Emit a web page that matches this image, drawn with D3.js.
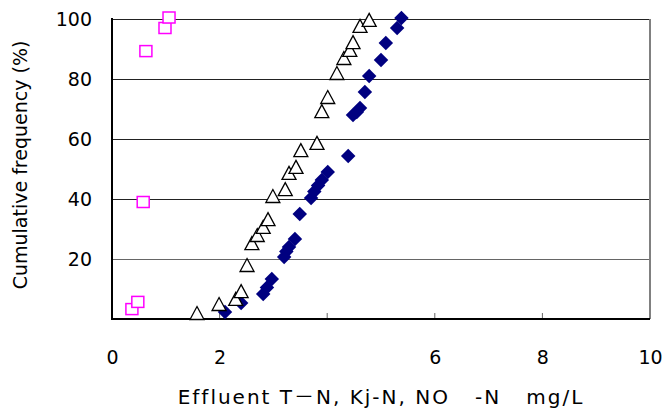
<!DOCTYPE html>
<html>
<head>
<meta charset="utf-8">
<script src="https://cdn.jsdelivr.net/npm/d3@7"></script>
<style>
  html, body { margin: 0; padding: 0; background: #fff; }
  svg { display: block; }
  text { font-family: "DejaVu Sans", "Noto Sans CJK JP", sans-serif; fill: #000; }
</style>
</head>
<body>
<svg id="chart" width="664" height="417"></svg>
<script>
// ---- data ----
const xTicks = [0, 2, 4, 6, 8, 10];
const xTickLabels = ["0", "2", "", "6", "8", "10"];
const yTicks = [20, 40, 60, 80, 100];
const yTickLabels = ["20", "40", "60", "80", "100"];

// open triangles
const triX = [1.58, 1.99, 2.30, 2.40, 2.51, 2.60, 2.70, 2.81, 2.90, 2.99, 3.22, 3.29, 3.42, 3.51, 3.81, 3.90, 4.01, 4.18, 4.31, 4.42, 4.48, 4.61, 4.78];
const triY = [2.0, 5.0, 6.7, 9.3, 18.0, 25.3, 28.0, 30.7, 33.3, 41.0, 43.3, 48.7, 50.7, 56.3, 58.7, 69.3, 74.0, 82.0, 87.0, 89.7, 92.3, 97.7, 99.7];

// navy diamonds
const diaX = [2.10, 2.40, 2.81, 2.88, 2.97, 3.20, 3.24, 3.29, 3.40, 3.49, 3.70, 3.76, 3.83, 3.90, 4.01, 4.39, 4.48, 4.55, 4.61, 4.70, 4.78, 5.00, 5.09, 5.30, 5.38];
const diaY = [2.3, 5.3, 8.3, 10.5, 13.3, 20.7, 22.5, 24.0, 26.7, 35.0, 40.3, 42.5, 44.5, 46.3, 49.0, 54.3, 68.0, 69.0, 70.3, 75.7, 81.0, 86.3, 92.0, 97.0, 100.3];

// magenta open squares
const sqX = [0.37, 0.48, 0.58, 0.63, 0.985, 1.06];
const sqY = [3.3, 5.7, 39.0, 89.3, 97.0, 100.5];

const xTitle = "Effluent T－N, Kj-N, NO\u00a0\u00a0\u00a0-N\u00a0\u00a0\u00a0mg/L";
const yTitle = "Cumulative frequency (%)";

// ---- layout ----
const svg = d3.select("#chart");
const L = 112, R = 650, T = 19, B = 319;
const x = d3.scaleLinear().domain([0, 10]).range([L, R]);
const y = d3.scaleLinear().domain([0, 100]).range([B, T]);

// gridlines
svg.append("g").selectAll("line").data(yTicks).join("line")
  .attr("x1", L).attr("x2", R)
  .attr("y1", d => Math.round(y(d)) + 0.5).attr("y2", d => Math.round(y(d)) + 0.5)
  .attr("stroke", d => d === 20 ? "#666" : "#222").attr("stroke-width", 1.2);

// right border
svg.append("line").attr("x1", R).attr("x2", R).attr("y1", T).attr("y2", B)
  .attr("stroke", "#808080").attr("stroke-width", 2);

// x axis
const xAxis = d3.axisBottom(x).tickValues(xTicks).tickSize(0).tickPadding(0)
  .tickFormat((d, i) => xTickLabels[i]);
const gx = svg.append("g").attr("transform", `translate(0,${B})`).call(xAxis);
gx.select(".domain").remove();
gx.selectAll("text").attr("font-size", 19).attr("dy", 0).attr("y", 45)
  .style("font-family", '"DejaVu Sans", sans-serif');
// inward ticks
svg.append("g").selectAll("line").data(xTicks.slice(1, -1)).join("line")
  .attr("x1", d => x(d)).attr("x2", d => x(d)).attr("y1", B).attr("y2", B - 6)
  .attr("stroke", "#666").attr("stroke-width", 1);

// y axis labels
const yAxis = d3.axisLeft(y).tickValues(yTicks).tickSize(0).tickPadding(0)
  .tickFormat((d, i) => yTickLabels[i]);
const gy = svg.append("g").attr("transform", `translate(${L - 20},0)`).call(yAxis);
gy.select(".domain").remove();
gy.selectAll("text").attr("font-size", 19).attr("dy", "0.35em")
  .style("font-family", '"DejaVu Sans", sans-serif');

// axis lines
svg.append("line").attr("x1", L).attr("x2", R).attr("y1", B).attr("y2", B)
  .attr("stroke", "#000").attr("stroke-width", 2);
svg.append("line").attr("x1", L).attr("x2", L).attr("y1", T - 1).attr("y2", B + 1)
  .attr("stroke", "#000").attr("stroke-width", 2);

// diamonds
const diamond = d3.symbol().type(d3.symbolSquare).size(105);
svg.append("g").selectAll("path").data(diaX.map((v, i) => [v, diaY[i]])).join("path")
  .attr("d", diamond)
  .attr("transform", d => `translate(${x(d[0])},${y(d[1])}) rotate(45)`)
  .attr("fill", "#000080");

// triangles
const tri = "M0,-6.5L7,6.5L-7,6.5Z";
svg.append("g").selectAll("path").data(triX.map((v, i) => [v, triY[i]])).join("path")
  .attr("d", tri)
  .attr("transform", d => `translate(${x(d[0])},${y(d[1])})`)
  .attr("fill", "#fff").attr("stroke", "#000").attr("stroke-width", 1.3);

// squares
svg.append("g").selectAll("rect").data(sqX.map((v, i) => [v, sqY[i]])).join("rect")
  .attr("x", d => x(d[0]) - 6).attr("y", d => y(d[1]) - 5.5)
  .attr("width", 12).attr("height", 11)
  .attr("fill", "#fff").attr("stroke", "#ff00ff").attr("stroke-width", 1.5);

// titles
svg.append("text").attr("x", 381).attr("y", 404).attr("text-anchor", "middle")
  .attr("font-size", 20).attr("letter-spacing", 2).text(xTitle);
svg.append("text").attr("transform", "translate(27,165) rotate(-90)")
  .attr("text-anchor", "middle").attr("font-size", 19).text(yTitle);
</script>
</body>
</html>
